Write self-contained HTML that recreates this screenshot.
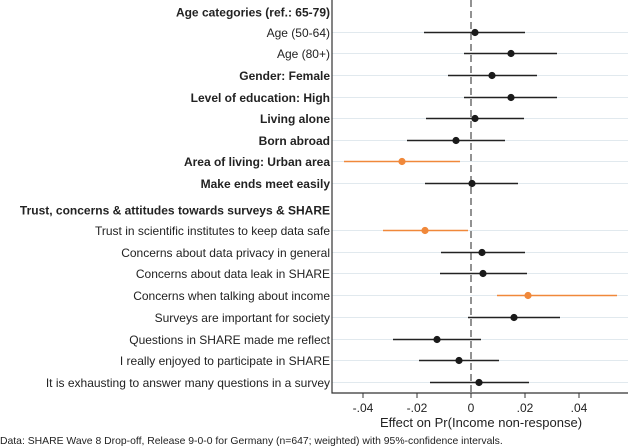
<!DOCTYPE html>
<html><head><style>
html,body{margin:0;padding:0;background:#fff;}
svg{display:block;font-family:"Liberation Sans",Arial,sans-serif;}
</style></head><body>
<svg width="628" height="447" viewBox="0 0 628 447" xmlns="http://www.w3.org/2000/svg">
<rect width="628" height="447" fill="#fff"/>
<g stroke="#e1e9ee" stroke-width="1">
<line x1="332" x2="628" y1="32.5" y2="32.5"/><line x1="332" x2="628" y1="53.5" y2="53.5"/>
<line x1="332" x2="628" y1="75.5" y2="75.5"/><line x1="332" x2="628" y1="97.5" y2="97.5"/>
<line x1="332" x2="628" y1="118.5" y2="118.5"/><line x1="332" x2="628" y1="140.5" y2="140.5"/>
<line x1="332" x2="628" y1="161.5" y2="161.5"/><line x1="332" x2="628" y1="183.5" y2="183.5"/>
<line x1="332" x2="628" y1="230.5" y2="230.5"/><line x1="332" x2="628" y1="252.5" y2="252.5"/>
<line x1="332" x2="628" y1="273.5" y2="273.5"/><line x1="332" x2="628" y1="295.5" y2="295.5"/>
<line x1="332" x2="628" y1="317.5" y2="317.5"/><line x1="332" x2="628" y1="339.5" y2="339.5"/>
<line x1="332" x2="628" y1="360.5" y2="360.5"/><line x1="332" x2="628" y1="382.5" y2="382.5"/>
</g>
<line x1="471" x2="471" y1="0" y2="393" stroke="#777" stroke-width="1.6" stroke-dasharray="7,4"/>
<g stroke-width="1.6">
<line x1="424" x2="525" y1="32.5" y2="32.5" stroke="#222"/>
<line x1="464" x2="557" y1="53.5" y2="53.5" stroke="#222"/>
<line x1="448" x2="537" y1="75.5" y2="75.5" stroke="#222"/>
<line x1="464" x2="557" y1="97.5" y2="97.5" stroke="#222"/>
<line x1="426" x2="524" y1="118.5" y2="118.5" stroke="#222"/>
<line x1="407" x2="505" y1="140.5" y2="140.5" stroke="#222"/>
<line x1="344" x2="460" y1="161.5" y2="161.5" stroke="#f0883a"/>
<line x1="425" x2="518" y1="183.5" y2="183.5" stroke="#222"/>
<line x1="383" x2="468" y1="230.5" y2="230.5" stroke="#f0883a"/>
<line x1="441" x2="525" y1="252.5" y2="252.5" stroke="#222"/>
<line x1="440" x2="527" y1="273.5" y2="273.5" stroke="#222"/>
<line x1="497" x2="617" y1="295.5" y2="295.5" stroke="#f0883a"/>
<line x1="468" x2="560" y1="317.5" y2="317.5" stroke="#222"/>
<line x1="393" x2="481" y1="339.5" y2="339.5" stroke="#222"/>
<line x1="419" x2="499" y1="360.5" y2="360.5" stroke="#222"/>
<line x1="430" x2="529" y1="382.5" y2="382.5" stroke="#222"/>
</g>
<g fill="#1a1a1a">
<circle cx="475" cy="32.5" r="3.6"/><circle cx="511" cy="53.5" r="3.6"/>
<circle cx="492" cy="75.5" r="3.6"/><circle cx="511" cy="97.5" r="3.6"/>
<circle cx="475" cy="118.5" r="3.6"/><circle cx="456" cy="140.5" r="3.6"/>
<circle cx="402" cy="161.5" r="3.6" fill="#f0883a"/><circle cx="472" cy="183.5" r="3.6"/>
<circle cx="425" cy="230.5" r="3.6" fill="#f0883a"/><circle cx="482" cy="252.5" r="3.6"/>
<circle cx="483" cy="273.5" r="3.6"/><circle cx="528" cy="295.5" r="3.6" fill="#f0883a"/>
<circle cx="514" cy="317.5" r="3.6"/><circle cx="437" cy="339.5" r="3.6"/>
<circle cx="459" cy="360.5" r="3.6"/><circle cx="479" cy="382.5" r="3.6"/>
</g>
<line x1="332" x2="332" y1="0" y2="393.5" stroke="#333" stroke-width="1.2"/>
<line x1="331.5" x2="628" y1="393" y2="393" stroke="#333" stroke-width="1.2"/>
<g stroke="#333" stroke-width="1"><line x1="363" x2="363" y1="393" y2="398"/><line x1="417" x2="417" y1="393" y2="398"/><line x1="471" x2="471" y1="393" y2="398"/><line x1="525" x2="525" y1="393" y2="398"/><line x1="579" x2="579" y1="393" y2="398"/></g>
<g font-size="12" fill="#222" text-anchor="middle">
<text x="363" y="412">-.04</text><text x="417" y="412">-.02</text><text x="471" y="412">0</text><text x="525" y="412">.02</text><text x="579" y="412">.04</text>
<text x="481" y="427" font-size="13">Effect on Pr(Income non-response)</text>
</g>
<g font-size="12" fill="#222" text-anchor="end">
<text x="330" y="16.5" font-weight="bold">Age categories (ref.: 65-79)</text>
<text x="330" y="37">Age (50-64)</text>
<text x="330" y="58">Age (80+)</text>
<text x="330" y="80" font-weight="bold">Gender: Female</text>
<text x="330" y="102" font-weight="bold">Level of education: High</text>
<text x="330" y="123" font-weight="bold">Living alone</text>
<text x="330" y="145" font-weight="bold">Born abroad</text>
<text x="330" y="166" font-weight="bold">Area of living: Urban area</text>
<text x="330" y="188" font-weight="bold">Make ends meet easily</text>
<text x="330" y="214.5" font-weight="bold">Trust, concerns &amp; attitudes towards surveys &amp; SHARE</text>
<text x="330" y="235">Trust in scientific institutes to keep data safe</text>
<text x="330" y="257">Concerns about data privacy in general</text>
<text x="330" y="278">Concerns about data leak in SHARE</text>
<text x="330" y="300">Concerns when talking about income</text>
<text x="330" y="322">Surveys are important for society</text>
<text x="330" y="344">Questions in SHARE made me reflect</text>
<text x="330" y="365">I really enjoyed to participate in SHARE</text>
<text x="330" y="387">It is exhausting to answer many questions in a survey</text>
</g>
<text x="0" y="444" font-size="10.4" fill="#222">Data: SHARE Wave 8 Drop-off, Release 9-0-0 for Germany (n=647; weighted) with 95%-confidence intervals.</text>
</svg>
</body></html>
